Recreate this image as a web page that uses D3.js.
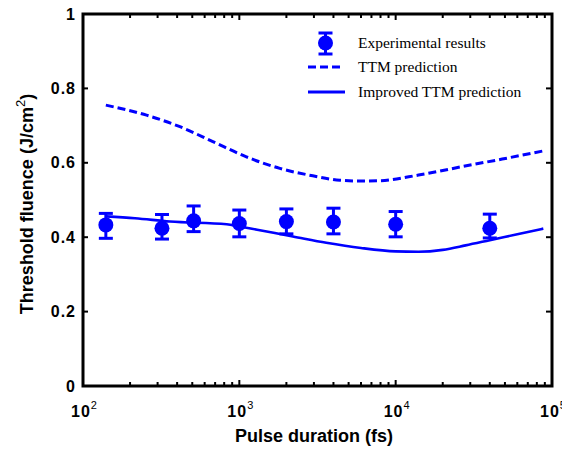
<!DOCTYPE html>
<html>
<head>
<meta charset="utf-8">
<script src="https://cdn.jsdelivr.net/npm/d3@7"></script>
<style>
  html, body { margin: 0; padding: 0; background: #fff; }
  svg { display: block; }
</style>
</head>
<body>
<svg id="chart" width="562" height="453"></svg>
<script>
// ---- data ----
const expDuration = [140, 320, 510, 1000, 2000, 4000, 10000, 40000];
const expFluence  = [0.433, 0.424, 0.444, 0.437, 0.442, 0.441, 0.435, 0.424];
const expErrUpper = [0.464, 0.461, 0.484, 0.473, 0.476, 0.478, 0.469, 0.462];
const expErrLower = [0.397, 0.395, 0.415, 0.401, 0.409, 0.409, 0.401, 0.398];

const ttmDuration = [140, 255, 417, 677, 1110, 1815, 2950, 4400, 6000, 8000, 14000, 30000, 48000, 88000];
const ttmFluence  = [0.755, 0.728, 0.697, 0.657, 0.616, 0.585, 0.565, 0.553, 0.551, 0.552, 0.567, 0.594, 0.610, 0.632];

const impDuration = [140, 215, 360, 830, 1000, 1300, 2200, 3600, 6000, 10000, 14000, 20000, 28000, 40000, 60000, 88000];
const impFluence  = [0.456, 0.451, 0.442, 0.435, 0.429, 0.420, 0.402, 0.385, 0.371, 0.362, 0.361, 0.366, 0.378, 0.392, 0.408, 0.423];

const xTickExponents = [2, 3, 4, 5];
const yTicks = [0, 0.2, 0.4, 0.6, 0.8, 1];
const yTickLabels = ["0", "0.2", "0.4", "0.6", "0.8", "1"];
const legendLabels = ["Experimental results", "TTM prediction", "Improved TTM prediction"];

// ---- layout ----
const L = 83, R = 552, T = 14, B = 386;
const blue = "#0000ff";
const svg = d3.select("#chart");
svg.append("rect").attr("width", 562).attr("height", 453).attr("fill", "#fff");

const x = d3.scaleLog().domain([1e2, 1e5]).range([L, R]);
const y = d3.scaleLinear().domain([0, 1]).range([B, T]);

// ---- ticks ----
const minorTicks = [];
for (let e = 2; e < 5; e++) for (let m = 2; m <= 9; m++) minorTicks.push(m * Math.pow(10, e));
const majorTicks = xTickExponents.map(e => Math.pow(10, e));

const tickG = svg.append("g").attr("stroke", "#000").attr("stroke-width", 2);
minorTicks.forEach(v => {
  tickG.append("line").attr("x1", x(v)).attr("x2", x(v)).attr("y1", B).attr("y2", B - 4);
  tickG.append("line").attr("x1", x(v)).attr("x2", x(v)).attr("y1", T).attr("y2", T + 4);
});
majorTicks.forEach(v => {
  tickG.append("line").attr("x1", x(v)).attr("x2", x(v)).attr("y1", B).attr("y2", B - 6);
  tickG.append("line").attr("x1", x(v)).attr("x2", x(v)).attr("y1", T).attr("y2", T + 6);
});
yTicks.forEach(v => {
  tickG.append("line").attr("x1", L).attr("x2", L + 5).attr("y1", y(v)).attr("y2", y(v));
  tickG.append("line").attr("x1", R).attr("x2", R - 6).attr("y1", y(v)).attr("y2", y(v));
});

// ---- tick labels ----
const tickFont = "'Liberation Sans', Arial, sans-serif";
yTicks.forEach((v, i) => {
  svg.append("text").attr("x", 76).attr("y", y(v) + 5.5)
    .attr("text-anchor", "end").attr("font-family", tickFont)
    .attr("font-size", 16).attr("font-weight", "bold").attr("letter-spacing", 1)
    .attr("fill", "#000").text(yTickLabels[i]);
});
xTickExponents.forEach(e => {
  const px = x(Math.pow(10, e));
  const t = svg.append("text").attr("x", px - 12).attr("y", 417)
    .attr("font-family", tickFont).attr("fill", "#000");
  t.append("tspan").attr("font-size", 16).attr("font-weight", "bold").attr("letter-spacing", 1).text("10");
  t.append("tspan").attr("font-size", 11).attr("dy", -8).text(String(e));
});

// ---- axis labels ----
svg.append("text").attr("x", 314).attr("y", 442).attr("text-anchor", "middle")
  .attr("font-family", tickFont).attr("font-size", 18).attr("font-weight", "bold")
  .attr("fill", "#000").text("Pulse duration (fs)");

const yl = svg.append("text").attr("transform", "translate(33,204) rotate(-90)")
  .attr("text-anchor", "middle").attr("font-family", tickFont).attr("font-size", 18)
  .attr("font-weight", "bold").attr("fill", "#000");
yl.append("tspan").text("Threshold fluence (J/cm");
yl.append("tspan").attr("font-size", 13).attr("font-weight", "normal").attr("dy", -8).text("2");
yl.append("tspan").attr("dy", 8).text(")");

// ---- lines ----
const line = d3.line().x(d => x(d[0])).y(d => y(d[1])).curve(d3.curveMonotoneX);
svg.append("path").datum(d3.zip(ttmDuration, ttmFluence)).attr("d", line)
  .attr("fill", "none").attr("stroke", blue).attr("stroke-width", 3).attr("stroke-dasharray", "8,4");
svg.append("path").datum(d3.zip(impDuration, impFluence)).attr("d", line)
  .attr("fill", "none").attr("stroke", blue).attr("stroke-width", 2.6);

// ---- error bars + markers ----
const cap = 7;
expDuration.forEach((d, i) => {
  const px = x(d);
  const g = svg.append("g").attr("stroke", blue).attr("stroke-width", 3);
  g.append("line").attr("x1", px).attr("x2", px).attr("y1", y(expErrUpper[i])).attr("y2", y(expErrLower[i]));
  g.append("line").attr("x1", px - cap).attr("x2", px + cap).attr("y1", y(expErrUpper[i])).attr("y2", y(expErrUpper[i]));
  g.append("line").attr("x1", px - cap).attr("x2", px + cap).attr("y1", y(expErrLower[i])).attr("y2", y(expErrLower[i]));
  svg.append("circle").attr("cx", px).attr("cy", y(expFluence[i])).attr("r", 7.5).attr("fill", blue);
});

// ---- frame ----
svg.append("rect").attr("x", L).attr("y", T).attr("width", R - L).attr("height", B - T)
  .attr("fill", "none").attr("stroke", "#000").attr("stroke-width", 3);

// ---- legend ----
const lgFont = "'Liberation Serif', 'Times New Roman', serif";
const lg = svg.append("g");
const lx0 = 308, lx1 = 344, ltx = 358;
const rowY = [43, 67, 92];
{
  const cx = (lx0 + lx1) / 2 - 0.5;
  const g = lg.append("g").attr("stroke", blue).attr("stroke-width", 3);
  g.append("line").attr("x1", cx).attr("x2", cx).attr("y1", rowY[0] - 10).attr("y2", rowY[0] + 11);
  g.append("line").attr("x1", cx - cap).attr("x2", cx + cap).attr("y1", rowY[0] - 10).attr("y2", rowY[0] - 10);
  g.append("line").attr("x1", cx - cap).attr("x2", cx + cap).attr("y1", rowY[0] + 11).attr("y2", rowY[0] + 11);
  lg.append("circle").attr("cx", cx).attr("cy", rowY[0]).attr("r", 7.5).attr("fill", blue);
}
lg.append("line").attr("x1", lx0).attr("x2", lx1 - 2).attr("y1", rowY[1]).attr("y2", rowY[1])
  .attr("stroke", blue).attr("stroke-width", 3).attr("stroke-dasharray", "8,4");
lg.append("line").attr("x1", lx0).attr("x2", lx1 + 1).attr("y1", rowY[2]).attr("y2", rowY[2])
  .attr("stroke", blue).attr("stroke-width", 3);
legendLabels.forEach((t, i) => {
  lg.append("text").attr("x", ltx).attr("y", rowY[i] + 5).attr("font-family", lgFont)
    .attr("font-size", 15.5).attr("fill", "#000").text(t);
});
</script>
</body>
</html>
